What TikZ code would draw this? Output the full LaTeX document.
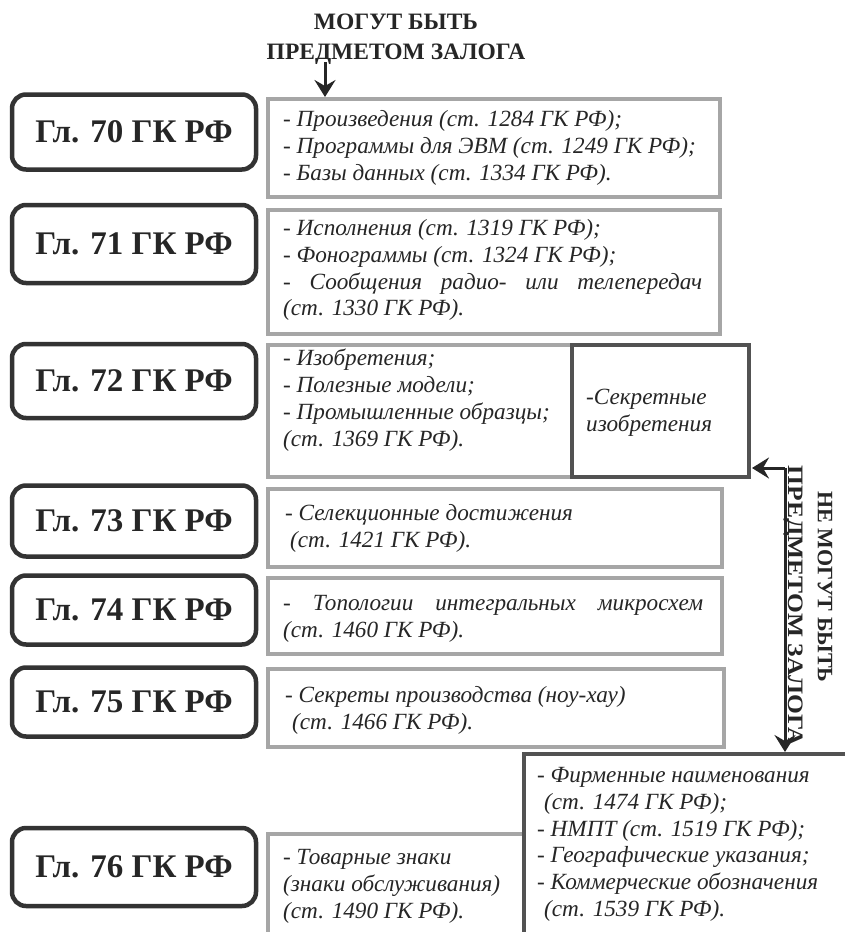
\documentclass[tikz,border=0pt]{standalone}
\usepackage{fontspec}
\setmainfont{Liberation Serif}
\usetikzlibrary{arrows.meta}
\begin{document}
\begin{tikzpicture}[x=1pt,y=-1pt,
  gl/.style={draw=black!80, line width=4.5pt, rounded corners=14pt, minimum width=244pt, text=black!85,
    font=\fontsize{33}{38}\selectfont\bfseries},
  tb/.style={draw=black!35, line width=4pt, anchor=north west, inner sep=0pt},
  db/.style={draw=black!68, line width=4pt, anchor=north west, inner sep=0pt},
  txt/.style={font=\fontsize{23.2}{26.8}\selectfont\itshape, align=left, anchor=north west, inner sep=0pt, text=black!85},
  ttl/.style={font=\fontsize{23.5}{30}\selectfont\bfseries, align=center, text=black!85},
  stl/.style={font=\fontsize{22}{30}\selectfont\bfseries, text=black!85, rotate=-90, inner sep=0pt},
  arr/.style={line width=3pt, draw=black!85, -{Stealth[length=17pt,width=21pt,inset=6pt]}}]
\path[use as bounding box, fill=white] (0,0) rectangle (845,932);

% left chapter boxes
\node[gl, minimum height=75pt] (g70) at (134,132) {Гл. 70 ГК РФ};
\node[gl, minimum height=78pt] (g71) at (134,244) {Гл. 71 ГК РФ};
\node[gl, minimum height=74pt] (g72) at (134,381) {Гл. 72 ГК РФ};
\node[gl, minimum height=71pt] (g73) at (134,521) {Гл. 73 ГК РФ};
\node[gl, minimum height=69pt] (g74) at (134,610) {Гл. 74 ГК РФ};
\node[gl, minimum height=69pt] (g75) at (134,702) {Гл. 75 ГК РФ};
\node[gl, minimum height=78pt] (g76) at (134,867) {Гл. 76 ГК РФ};

% text frames
\node[tb, minimum width=452pt, minimum height=98pt] (t70) at (266,97) {};
\node[tb, minimum width=452pt, minimum height=124pt] (t71) at (266,208) {};
\node[tb, minimum width=304pt, minimum height=132pt] (t72) at (266,343) {};
\node[db, minimum width=177pt, minimum height=132pt] (s72) at (570,343) {};
\node[tb, minimum width=454pt, minimum height=78pt] (t73) at (266,487) {};
\node[tb, minimum width=454pt, minimum height=76pt] (t74) at (266,576) {};
\node[tb, minimum width=456pt, minimum height=78pt] (t75) at (266,667) {};
\node[tb, minimum width=256pt, minimum height=110pt] (t76) at (266,832) {};
\node[db, minimum width=330pt, minimum height=190pt] (br) at (522,752) {};

% texts
\node[txt] (x70) at (283,107.5) {\strut- Произведения (ст. 1284 ГК РФ);\\- Программы для ЭВМ (ст. 1249 ГК РФ);\\- Базы данных (ст. 1334 ГК РФ).};
\node[txt] (x71) at (283,216.5) {\strut- Исполнения (ст. 1319 ГК РФ);\\- Фонограммы (ст. 1324 ГК РФ);\\\makebox[419pt][s]{- Сообщения радио- или телепередач}\\(ст. 1330 ГК РФ).};
\node[txt] (x72) at (283,347) {\strut- Изобретения;\\- Полезные модели;\\- Промышленные образцы;\\(ст. 1369 ГК РФ).};
\node[txt] (xs72) at (586,385.5) {\strut-Секретные\\изобретения};
\node[txt] (x73) at (285,501.5) {\strut- Селекционные достижения\\\hspace*{5pt}(ст. 1421 ГК РФ).};
\node[txt] (x74) at (283,591.5) {\strut\makebox[420pt][s]{- Топологии интегральных микросхем}\\(ст. 1460 ГК РФ).};
\node[txt] (x75) at (285,683.5) {\strut- Секреты производства (ноу-хау)\\\hspace*{7pt}(ст. 1466 ГК РФ).};
\node[txt] (x76) at (283,845.5) {\strut- Товарные знаки\\(знаки обслуживания)\\(ст. 1490 ГК РФ).};
\node[txt] (xbr) at (537,763.5) {\strut- Фирменные наименования\\\hspace*{7pt}(ст. 1474 ГК РФ);\\- НМПТ (ст. 1519 ГК РФ);\\- Географические указания;\\- Коммерческие обозначения\\\hspace*{7pt}(ст. 1539 ГК РФ).};

% titles
\node[ttl] (top) at (396,39) {МОГУТ БЫТЬ\\ПРЕДМЕТОМ ЗАЛОГА};
\node[stl] (side1) at (825,587) {НЕ МОГУТ БЫТЬ};
\node[stl] (side2) at (793,606) {\scalebox{1.16}[1]{ПРЕДМЕТОМ ЗАЛОГА}};

% arrows
\coordinate (a0) at (325,62);
\draw[arr] (a0) -- (a0 |- t70.north);
\coordinate (v1) at (785,468);
\coordinate (sx) at (752,468);
\draw[arr] (v1) -- (sx);
\draw[arr] (v1) -- (v1 |- br.north);
\end{tikzpicture}
\end{document}
